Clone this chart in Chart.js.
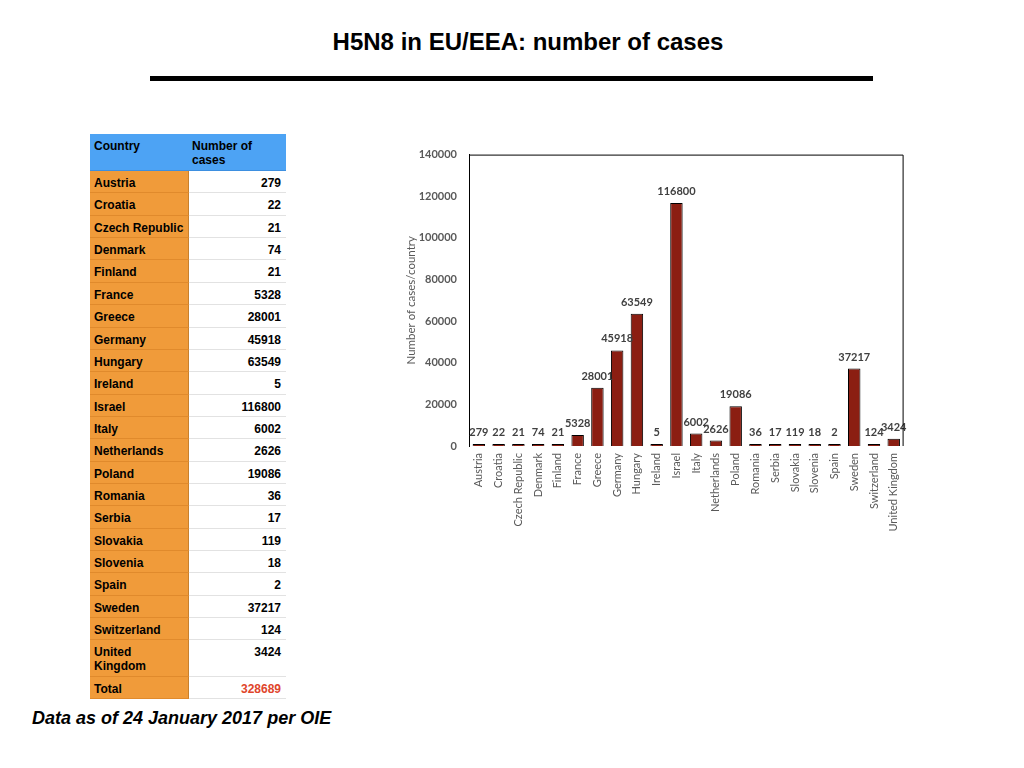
<!DOCTYPE html>
<html>
<head>
<meta charset="utf-8">
<script src="https://cdn.jsdelivr.net/npm/chart.js@4.4.1/dist/chart.umd.min.js"></script>
<style>
  body { margin: 0; width: 1024px; height: 768px; background: #fff; position: relative; overflow: hidden; font-family: "Liberation Sans", Arial, sans-serif; }
  #title { position: absolute; left: 0; width: 1056px; top: 28px; text-align: center; font-weight: bold; font-size: 24px; color: #000; }
  #rule { position: absolute; left: 150px; top: 76px; width: 723px; height: 5px; background: #000; }
  #tbl { position: absolute; left: 90px; top: 134px; border-collapse: collapse; font-size: 12px; font-weight: bold; }
  #tbl td { padding: 5px 4px 0 4px; vertical-align: top; line-height: 14px; box-sizing: border-box; }
  #tbl td.c { width: 98px; background: #f09b3a; border-bottom: 1px solid #e08a2c; border-right: 1px solid #c8802c; }
  #tbl td.v { width: 98px; background: #fff; text-align: right; padding-right: 5px; border-bottom: 1px solid #e2e2e2; }
  #tbl tr.h td { background: #4da3f4; border-bottom: 1px solid #3d8fe0; border-right: none; text-align: left; padding-top: 5px; }
  #tbl tr { height: 22.35px; }
  #tbl tr.h, #tbl tr.tall { height: 36.6px; }
  #note { position: absolute; left: 32px; top: 708px; font-size: 18px; font-weight: bold; font-style: italic; }
  #wrap { position: absolute; left: 400px; top: 136px; width: 514px; height: 404px; }
</style>
</head>
<body>
<div id="title">H5N8 in EU/EEA: number of cases</div>
<div id="rule"></div>
<table id="tbl"></table>
<div id="note">Data as of 24 January 2017 per OIE</div>
<div id="wrap"><canvas id="chart"></canvas></div>
<script>
// countries and case counts
const countries = ['Austria', 'Croatia', 'Czech Republic', 'Denmark', 'Finland', 'France', 'Greece',
  'Germany', 'Hungary', 'Ireland', 'Israel', 'Italy', 'Netherlands', 'Poland', 'Romania', 'Serbia',
  'Slovakia', 'Slovenia', 'Spain', 'Sweden', 'Switzerland', 'United Kingdom'];
const cases = [279, 22, 21, 74, 21, 5328, 28001, 45918, 63549, 5, 116800, 6002, 2626, 19086, 36, 17,
  119, 18, 2, 37217, 124, 3424];
const yTicks = [0, 20000, 40000, 60000, 80000, 100000, 120000, 140000];

// table on the left
const tbl = document.getElementById('tbl');
let html = '<tr class="h"><td class="c">Country</td><td class="v">Number of<br>cases</td></tr>';
countries.forEach((c, i) => {
  const name = c === 'United Kingdom' ? 'United<br>Kingdom' : c;
  html += '<tr' + (c === 'United Kingdom' ? ' class="tall"' : '') + '><td class="c">' + name +
    '</td><td class="v">' + cases[i] + '</td></tr>';
});
const total = cases.reduce((a, b) => a + b, 0);
html += '<tr><td class="c">Total</td><td class="v" style="color:#e0452b">' + total + '</td></tr>';
tbl.innerHTML = html;

// value labels above bars + box around plot area
const valueLabels = {
  id: 'valueLabels',
  afterDatasetsDraw(chart) {
    const ctx = chart.ctx;
    const meta = chart.getDatasetMeta(0);
    ctx.save();
    ctx.font = 'bold 11px Lato';
    ctx.fillStyle = '#404040';
    ctx.textAlign = 'center';
    ctx.textBaseline = 'bottom';
    meta.data.forEach((bar, i) => {
      ctx.fillText(String(cases[i]), bar.x, bar.y - 6);
    });
    const a = chart.chartArea;
    ctx.strokeStyle = '#000';
    ctx.lineWidth = 1;
    ctx.beginPath();
    ctx.moveTo(a.left, a.top + 0.5);
    ctx.lineTo(a.right - 0.5, a.top + 0.5);
    ctx.lineTo(a.right - 0.5, a.bottom);
    ctx.stroke();
    ctx.restore();
  }
};

new Chart(document.getElementById('chart').getContext('2d'), {
  type: 'bar',
  data: {
    labels: countries,
    datasets: [{
      data: cases,
      backgroundColor: '#8b1e12',
      borderColor: '#000',
      borderWidth: 1,
      minBarLength: 2,
      categoryPercentage: 0.63,
      barPercentage: 1
    }]
  },
  options: {
    responsive: true,
    maintainAspectRatio: false,
    animation: false,
    layout: { padding: { top: 10, right: 3, left: 0, bottom: 0 } },
    plugins: { legend: { display: false }, tooltip: { enabled: false } },
    scales: {
      x: {
        grid: { display: false, drawTicks: false },
        border: { display: false },
        ticks: { color: '#595959', font: { family: 'Lato', size: 11 }, minRotation: 90, maxRotation: 90, padding: 7, autoSkip: false },
        afterFit(s) { s.height = 94; }
      },
      y: {
        min: 0,
        max: 140000,
        afterBuildTicks(s) { s.ticks = yTicks.map(v => ({ value: v })); },
        grid: { display: false, drawTicks: false },
        border: { display: true, color: '#000', width: 1 },
        ticks: { color: '#595959', font: { family: 'Lato', size: 11, weight: 'bold' }, padding: 12, callback: v => String(v) },
        title: { display: true, text: 'Number of cases/country', color: '#595959', font: { family: 'Lato', size: 11.5 }, padding: { top: 4, bottom: 0 } },
        afterFit(s) { s.width = 69; }
      }
    }
  },
  plugins: [valueLabels]
});
</script>
</body>
</html>
